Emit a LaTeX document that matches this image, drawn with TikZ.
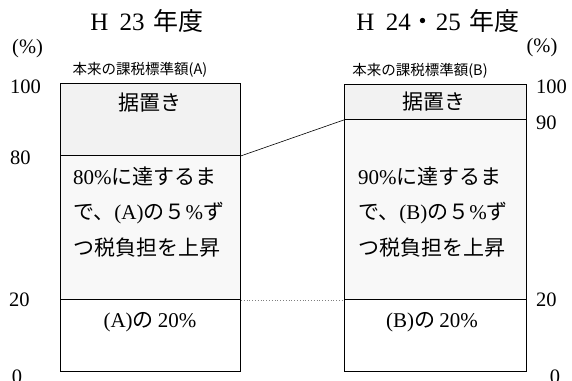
\documentclass[tikz,border=0pt]{standalone}
\usepackage{fontspec}
\setmainfont{Liberation Serif}
\newfontfamily\cjk{Noto Sans CJK JP}
\usetikzlibrary{positioning}
\definecolor{topfill}{HTML}{F2F2F2}
\definecolor{midfill}{HTML}{F8F8F8}
\tikzset{
  part/.style={draw=black, line width=0.9pt, inner sep=0pt, anchor=north west, rectangle},
  lbl/.style={inner sep=0pt, font=\fontsize{20.5}{22}\selectfont},
  ttl/.style={inner sep=0pt, font=\fontsize{25}{27}\selectfont},
  small/.style={inner sep=0pt, font=\cjk\fontsize{14.5}{16}\selectfont},
  body/.style={inner sep=0pt, font=\fontsize{21}{35.5}\selectfont, align=left},
}
\begin{document}
\begin{tikzpicture}[x=1pt,y=-1pt]
\useasboundingbox (0,0) rectangle (572,380);
% left box
\node[part, fill=topfill, minimum width=180pt, minimum height=72pt] (LAt) at (60,83) {};
\node[part, fill=midfill, minimum width=180pt, minimum height=144pt] (LAm) at (60,155) {};
\node[part, fill=white, minimum width=180pt, minimum height=72pt] (LAb) at (60,299) {};
% right box
\node[part, fill=topfill, minimum width=182pt, minimum height=35pt] (RBt) at (344,84) {};
\node[part, fill=midfill, minimum width=182pt, minimum height=180pt] (RBm) at (344,119) {};
\node[part, fill=white, minimum width=182pt, minimum height=72pt] (RBb) at (344,299) {};
% connectors
\draw[line width=0.6pt] (LAt.south east) -- (RBt.south west);
\draw[line width=0.8pt, gray, dotted] (LAm.south east) -- (RBm.south west);
% titles
\node[ttl] (T1) at (147,21) {H\hspace{0.45em}23\hspace{0.35em}{\cjk 年度}};
\node[ttl] (T2) at (438,21) {H\hspace{0.45em}24{\cjk ・}25\hspace{0.35em}{\cjk 年度}};
% small labels
\node[small] (SA) at (140,70) {本来の課税標準額(A)};
\node[small] (SB) at (420,71) {本来の課税標準額(B)};
% box texts
\node[inner sep=0pt, font=\cjk\fontsize{21}{24}\selectfont] (KA) at (150,103) {据置き};
\node[inner sep=0pt, font=\cjk\fontsize{21}{24}\selectfont] (KB) at (434,102) {据置き};
\node[body, anchor=west] (MA) at (73,212) {80\%{\cjk に達するま}\\{\cjk で、}(A){\cjk の５}\%{\cjk ず}\\{\cjk つ税負担を上昇}};
\node[body, anchor=west] (MB) at (358,212) {90\%{\cjk に達するま}\\{\cjk で、}(B){\cjk の５}\%{\cjk ず}\\{\cjk つ税負担を上昇}};
\node[inner sep=0pt, font=\fontsize{21}{24}\selectfont] (BA) at (150,322) {(A){\cjk の}\hspace{0.2em}20\%};
\node[inner sep=0pt, font=\fontsize{21}{24}\selectfont] (BB) at (432,322) {(B){\cjk の}\hspace{0.2em}20\%};
% left scale
\node[lbl, anchor=west] (Lp) at (12,49) {(\%)};
\node[lbl, anchor=west] (L100) at (10,87) {100};
\node[lbl, anchor=west] (L80) at (10,158) {80};
\node[lbl, anchor=west] (L20) at (9,300) {20};
\node[lbl] (L0) at (17,377) {0};
% right scale
\node[lbl] (Rp) at (542,48) {(\%)};
\node[lbl, anchor=west] (R100) at (536,87) {100};
\node[lbl, anchor=west] (R90) at (536,123) {90};
\node[lbl, anchor=west] (R20) at (536,300) {20};
\node[lbl] (R0) at (555,377) {0};
\end{tikzpicture}
\end{document}
